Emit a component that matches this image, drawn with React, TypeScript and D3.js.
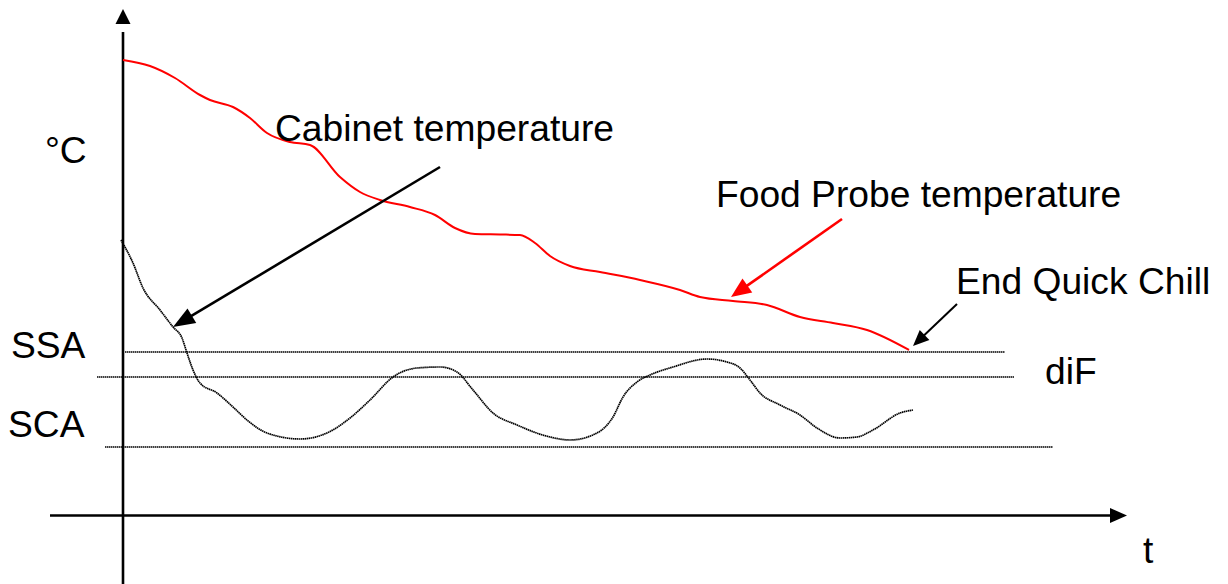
import React from "react";
import * as d3 from "d3";

// Abstract units: t (time) and temperature value
const probeT = [0, 27, 52, 77, 87, 110, 127, 144, 167, 187, 217, 237, 257, 287, 312, 332, 352, 377, 397, 412, 427, 447, 477, 517, 557, 577, 610, 644, 677, 710, 744, 786];
const probeV = [456, 450, 438, 421, 416, 409, 398, 383, 374, 371, 339, 324, 316, 309, 301, 288, 282, 281.5, 281, 273, 260, 250, 244, 236, 226, 219, 215, 211, 199, 193, 186, 166];

const cabT = [-2, 10, 20, 37, 50, 59, 64, 70, 77, 94, 110, 124, 144, 177, 204, 227, 247, 270, 294, 317, 334, 350, 370, 394, 427, 447, 474, 490, 500, 514, 527, 550, 584, 604, 617, 627, 637, 657, 677, 694, 717, 734, 750, 777, 790];
const cabV = [276, 253, 228, 206, 189, 178, 163, 146, 133, 123, 109, 96, 83, 77, 83, 98, 116, 139, 148, 149, 144, 126, 103, 91, 79, 76, 83, 99, 119, 134, 141, 149, 157, 154, 148, 136, 123, 111, 101, 88, 78, 79, 86, 103, 106];

const refLabels = ["SSA", "diF", "SCA"];
const refLevels = [164, 139, 69];
const refStart = [2, -26, -18];
const refEnd = [882, 891, 930];

const W = 1228;
const H = 584;

export default function App() {
  const x = d3.scaleLinear().domain([0, 1000]).range([123, 1123]);
  const y = d3.scaleLinear().domain([0, 500]).range([516, 16]);

  const line = d3
    .line<[number, number]>()
    .x((d) => x(d[0]))
    .y((d) => y(d[1]))
    .curve(d3.curveMonotoneX);

  const probe = line(probeT.map((t, i) => [t, probeV[i]]) as [number, number][]) || "";
  const cab = line(cabT.map((t, i) => [t, cabV[i]]) as [number, number][]) || "";

  const arrow = (x1: number, y1: number, x2: number, y2: number, len: number, hw: number, color: string, sw: number, key: string) => {
    const ang = Math.atan2(y2 - y1, x2 - x1);
    const bx = x2 - len * Math.cos(ang);
    const by = y2 - len * Math.sin(ang);
    const px = -Math.sin(ang) * hw;
    const py = Math.cos(ang) * hw;
    return (
      <g key={key}>
        <line x1={x1} y1={y1} x2={bx + Math.cos(ang) * 2} y2={by + Math.sin(ang) * 2} stroke={color} strokeWidth={sw} />
        <path d={`M${x2},${y2}L${bx + px},${by + py}L${bx - px},${by - py}Z`} fill={color} />
      </g>
    );
  };

  const font = "'Liberation Sans', Arial, sans-serif";
  const fs = 37.2;
  const dot = { stroke: "#000", strokeWidth: 1.7, strokeDasharray: "1.5 0.5" };

  return (
    <svg width={W} height={H} style={{ position: "absolute", left: 0, top: 0, background: "#fff" }} fontFamily={font}>
      <rect x={0} y={0} width={W} height={H} fill="#fff" />
      {/* reference lines */}
      {refLevels.map((v, i) => (
        <line key={refLabels[i]} x1={x(refStart[i])} x2={x(refEnd[i])} y1={y(v)} y2={y(v)} {...dot} />
      ))}
      {/* axes */}
      <line x1={x(0)} y1={H} x2={x(0)} y2={y(484)} stroke="#000" strokeWidth={2.6} />
      <path d={`M${x(0)},9L${x(0) - 7.5},24L${x(0) + 7.5},24Z`} fill="#000" />
      <line x1={50} y1={515.5} x2={1112} y2={515.5} stroke="#000" strokeWidth={2.6} />
      <path d={`M1127,515.5L1110,508L1110,523Z`} fill="#000" />

      {/* curves */}
      <path d={cab} fill="none" {...dot} />
      <path d={probe} fill="none" stroke="#f00" strokeWidth={2} />

      {/* annotation arrows */}
      {arrow(440, 167, 173, 327, 22, 8.5, "#000", 2.6, "a1")}
      {arrow(842, 219, 731, 297, 20, 8.5, "#f00", 2.6, "a2")}
      {arrow(957, 304, 913, 346, 16, 7, "#000", 2, "a3")}

      {/* texts */}
      <text x={45} y={163} fontSize={fs}>°C</text>
      <text x={275} y={141} fontSize={fs}>Cabinet temperature</text>
      <text x={716} y={207} fontSize={fs}>Food Probe temperature</text>
      <text x={956} y={294} fontSize={fs}>End Quick Chill</text>
      <text x={11} y={358} fontSize={fs}>{refLabels[0]}</text>
      <text x={1045} y={384} fontSize={fs}>{refLabels[1]}</text>
      <text x={8} y={437} fontSize={fs}>{refLabels[2]}</text>
      <text x={1143} y={563} fontSize={fs}>t</text>
    </svg>
  );
}
